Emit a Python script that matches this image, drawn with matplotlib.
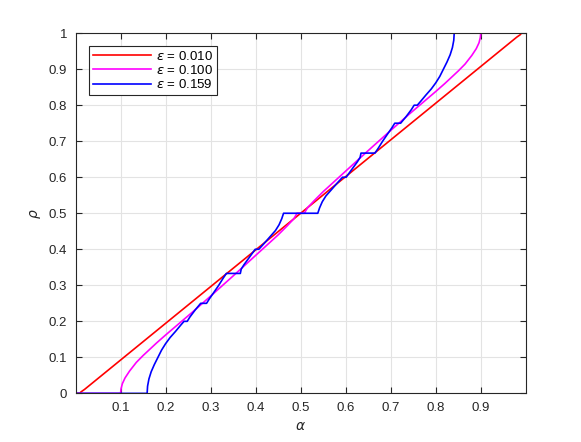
import numpy as np
import matplotlib
matplotlib.use('Agg')
from matplotlib import pyplot as plt

# values
eps_labels = ['0.010', '0.100', '0.159']

red_alpha = [0.0, 0.010, 0.012, 0.020, 0.500, 0.980, 0.988, 0.990, 1.0]
red_rho = [0.0, 0.0, 0.004, 0.011, 0.500, 0.989, 0.996, 1.0, 1.0]

mag_alpha = [0.0, 0.100, 0.101, 0.104, 0.110, 0.120, 0.135, 0.150, 0.180, 0.200,
             0.230, 0.260, 0.300, 0.350, 0.400, 0.450, 0.470, 0.485, 0.492,
             0.508, 0.515, 0.530, 0.550, 0.600, 0.650, 0.700, 0.740, 0.770,
             0.800, 0.820, 0.850, 0.865, 0.880, 0.890, 0.896, 0.899, 0.900, 1.0]
mag_rho = [0.0, 0.0, 0.012, 0.027, 0.043, 0.062, 0.086, 0.105, 0.140, 0.162,
           0.194, 0.226, 0.270, 0.326, 0.383, 0.440, 0.465, 0.485, 0.500,
           0.500, 0.515, 0.535, 0.560, 0.617, 0.674, 0.730, 0.774, 0.806,
           0.838, 0.860, 0.895, 0.914, 0.938, 0.957, 0.973, 0.988, 1.0, 1.0]

blue_alpha = [0.0, 0.159, 0.160, 0.163, 0.168, 0.175, 0.183, 0.191, 0.200, 0.210,
              0.222, 0.234, 0.241, 0.248, 0.254, 0.266, 0.278, 0.291, 0.297,
              0.307, 0.318, 0.328, 0.335, 0.366, 0.368, 0.374, 0.388, 0.399,
              0.407, 0.418, 0.432, 0.444, 0.452, 0.458, 0.462, 0.538, 0.542,
              0.548, 0.556, 0.568, 0.582, 0.593, 0.601, 0.612, 0.626, 0.632,
              0.634, 0.665, 0.672, 0.682, 0.693, 0.703, 0.709, 0.722, 0.734,
              0.746, 0.752, 0.759, 0.766, 0.778, 0.790, 0.800, 0.809, 0.817,
              0.825, 0.832, 0.837, 0.840, 0.841, 1.0]
blue_rho = [0.0, 0.0, 0.020, 0.040, 0.060, 0.080, 0.100, 0.120, 0.138, 0.155,
            0.172, 0.190, 0.200, 0.200, 0.212, 0.232, 0.250, 0.250, 0.262,
            0.280, 0.300, 0.320, 0.333, 0.333, 0.345, 0.357, 0.381, 0.400,
            0.400, 0.415, 0.435, 0.452, 0.468, 0.485, 0.500, 0.500, 0.515,
            0.532, 0.548, 0.565, 0.585, 0.600, 0.600, 0.619, 0.643, 0.655,
            0.667, 0.667, 0.680, 0.700, 0.720, 0.738, 0.750, 0.750, 0.768,
            0.788, 0.800, 0.800, 0.810, 0.828, 0.845, 0.862, 0.880, 0.900,
            0.920, 0.940, 0.960, 0.980, 1.0, 1.0]

xticks = [0.1, 0.2, 0.3, 0.4, 0.5, 0.6, 0.7, 0.8, 0.9]
yticks = [0, 0.1, 0.2, 0.3, 0.4, 0.5, 0.6, 0.7, 0.8, 0.9, 1]
ytick_labels = ['0', '0.1', '0.2', '0.3', '0.4', '0.5', '0.6', '0.7', '0.8', '0.9', '1']

plt.rcParams['font.family'] = ['Liberation Sans', 'DejaVu Sans']
plt.rcParams['mathtext.fontset'] = 'dejavusans'

axis_col = '#262626'

fig = plt.figure(figsize=(5.81, 4.42), dpi=100)
ax = fig.add_axes([0.13, 0.11, 0.775, 0.815])

ax.plot(red_alpha, red_rho, color='#ff0000', lw=1.2, label=r'$\epsilon$ = ' + eps_labels[0])
ax.plot(mag_alpha, mag_rho, color='#ff00ff', lw=1.2, label=r'$\epsilon$ = ' + eps_labels[1])
ax.plot(blue_alpha, blue_rho, color='#0000ff', lw=1.2, label=r'$\epsilon$ = ' + eps_labels[2])

ax.set_xlim(0, 1)
ax.set_ylim(0, 1)
ax.set_xticks(xticks)
ax.set_xticklabels([f'{t:g}' for t in xticks])
ax.set_yticks(yticks)
ax.set_yticklabels(ytick_labels)

ax.grid(True, color='#e3e3e3', lw=0.8)
ax.set_axisbelow(True)
ax.tick_params(direction='in', length=4, width=0.8, top=True, right=True,
               colors=axis_col, labelsize=9.5, pad=6)
for sp in ax.spines.values():
    sp.set_color(axis_col)
    sp.set_linewidth(0.8)

ax.set_xlabel(r'$\alpha$', fontsize=10, color=axis_col)
ax.set_ylabel(r'$\rho$', fontsize=10, color=axis_col)

leg = ax.legend(loc='upper left', bbox_to_anchor=(0.03, 0.965), fontsize=9.5,
                handlelength=4.4, borderaxespad=0, fancybox=False,
                framealpha=1, edgecolor=axis_col, borderpad=0.3,
                labelspacing=0.1, handletextpad=0.4)
leg.get_frame().set_linewidth(0.8)

fig.savefig('out.png', dpi=100)
